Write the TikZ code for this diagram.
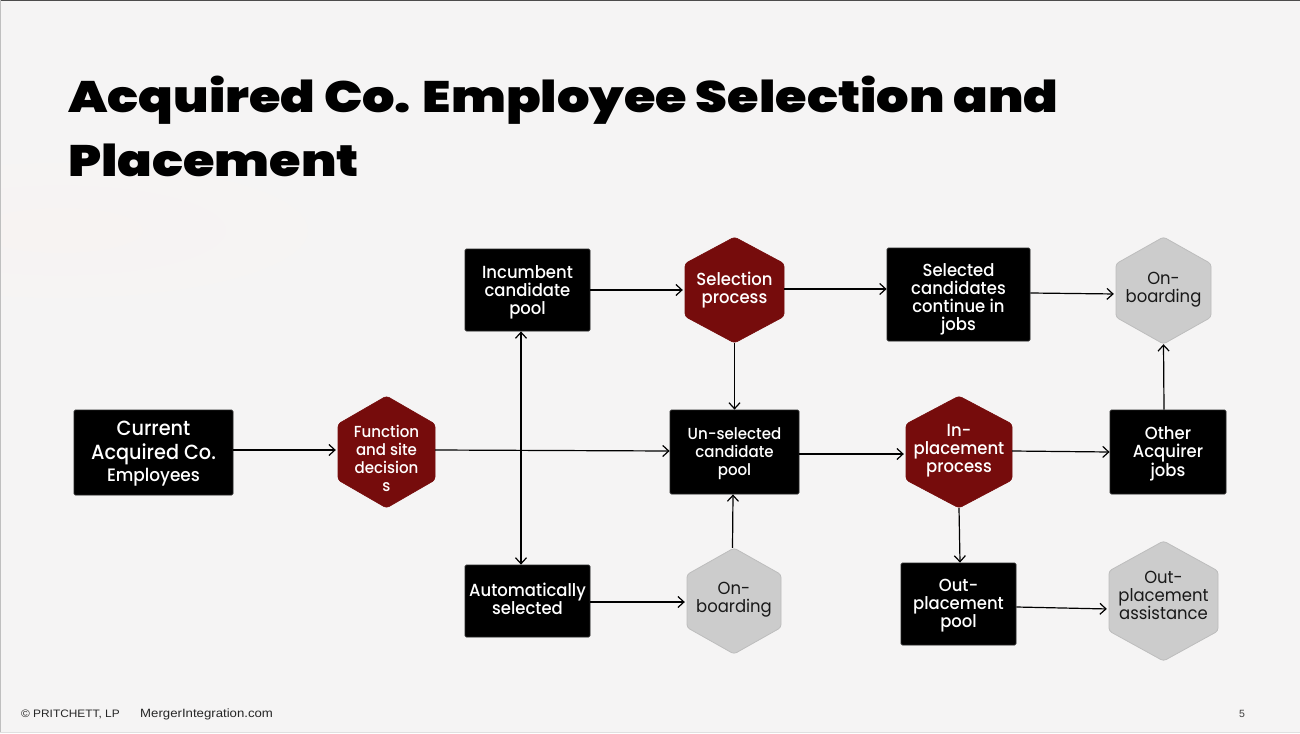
\documentclass[tikz,border=0pt]{standalone}
\usepackage{fontspec}
\usetikzlibrary{arrows.meta,calc}
\setmainfont[FakeStretch=0.94]{Poppins Medium}
\newfontfamily\grayfont[FakeStretch=0.94]{Poppins}
\newfontfamily\titlefont[FakeStretch=1.16]{Poppins Black}
\newfontfamily\footfont{Liberation Sans}
\newfontfamily\footfontw[FakeStretch=1.1]{Liberation Sans}
\definecolor{bgc}{HTML}{F5F4F4}
\definecolor{bgpink}{HTML}{F7F3F2}
\definecolor{hexred}{HTML}{760C0C}
\definecolor{hexgray}{HTML}{CCCCCC}
\definecolor{hexgrayline}{HTML}{BDBDBD}
\newcommand{\sz}[2]{\fontsize{#1}{#2}\selectfont}
% push a label down / up by #1 pt inside its box, so that the box itself stays put
\newcommand{\dn}[1]{\rule{0pt}{\dimexpr 0.8em+#1pt*2\relax}}
\newcommand{\up}[1]{\rule[\dimexpr -0.25em-#1pt*2\relax]{0pt}{0pt}}
\tikzset{
  darkbox/.style={draw=black!85,fill=black,line width=0.8pt,rounded corners=1.5pt,text=white,align=center,inner sep=0pt},
  hexlabel/.style={align=center,inner sep=0pt},
  redhex/.style={fill=hexred,draw=hexred,line width=0.6pt,rounded corners=3pt},
  grayhex/.style={fill=hexgray,draw=hexgrayline,line width=0.8pt,rounded corners=3pt},
  conn/.style={draw=black,line width=1.2pt,-{Straight Barb[length=6pt,width=11pt,line width=1.2pt]}},
  dconn/.style={draw=black,line width=1.2pt,{Straight Barb[length=6pt,width=11pt,line width=1.2pt]}-{Straight Barb[length=6pt,width=11pt,line width=1.2pt]}},
  tohex/.style={shorten >=2pt},
  big/.style={font=\sz{20.5}{24}},
  mid/.style={font=\sz{17.5}{18}},
  small/.style={font=\sz{16}{18}},
  graytext/.style={font=\grayfont\sz{17.5}{18},text=black!90},
}
% name, cx, cy, w, h, hexstyle, text options, text
\newcommand{\hexnode}[8]{%
  \path[#6] (#2,#3-#5/2) -- (#2+#4/2,#3-#5/4) -- (#2+#4/2,#3+#5/4) -- (#2,#3+#5/2) -- (#2-#4/2,#3+#5/4) -- (#2-#4/2,#3-#5/4) -- cycle;
  \node[hexlabel,minimum width=#4,minimum height=#5,#7] (#1) at (#2,#3) {#8};
}
\begin{document}
\begin{tikzpicture}[x=1pt,y=-1pt]
\useasboundingbox (0,0) rectangle (1300,733);
\fill[bgc] (0,0) rectangle (1300,733);
\shade[inner color=bgpink,outer color=bgc] (60,230) ellipse [x radius=330,y radius=90];
\fill[black!70] (0,0) rectangle (1300,1);
\fill[black!25] (0,0) rectangle (1,733);
\fill[black!12] (0,732) rectangle (1300,733);

\node[anchor=base west,inner sep=0pt] (title1) at (68,113) {\titlefont\sz{44}{46}Acquired Co. Employee Selection and};
\node[anchor=base west,inner sep=0pt] (title2) at (68,176) {\titlefont\sz{44}{46}Placement};

\node[darkbox,big,minimum width=159,minimum height=85] (cur) at (153.5,452.5) {\dn{0}Current\\Acquired Co.\\[-2pt]{\sz{18}{24}Employees}};
\node[darkbox,mid,minimum width=125,minimum height=82] (inc) at (527.5,290) {\dn{2}Incumbent\\candidate\\pool};
\node[darkbox,mid,minimum width=143,minimum height=93] (sel) at (958.5,294.5) {\dn{4}Selected\\candidates\\continue in\\jobs};
\node[darkbox,small,minimum width=129,minimum height=84] (uns) at (734.5,452) {\dn{1}Un-selected\\candidate\\pool};
\node[darkbox,mid,minimum width=116,minimum height=84] (oth) at (1168,452) {\dn{1}Other\\Acquirer\\jobs};
\node[darkbox,mid,minimum width=125,minimum height=72] (aut) at (527.5,601) {Automatically\\selected\up{0.3}};
\node[darkbox,mid,minimum width=115,minimum height=82] (out) at (958.5,604) {\dn{1}Out-\\placement\\pool};

\hexnode{fun}{386.5}{452}{97}{112}{redhex}{small,text=white}{\dn{6}Function\\and site\\decision\\s}
\hexnode{spr}{734.5}{290}{99}{106}{redhex}{mid,text=white}{Selection\\process}
\hexnode{onb}{1163.5}{290.5}{95}{107}{grayhex}{graytext}{On-\\boarding\up{1}}
\hexnode{inp}{959}{452}{106}{112}{redhex}{mid,text=white}{In-\\placement\\process\up{1}}
\hexnode{onl}{734}{601}{94}{106}{grayhex}{graytext}{On-\\boarding\up{1}}
\hexnode{oas}{1163.5}{601}{109}{120}{grayhex}{graytext}{Out-\\placement\\assistance\up{3}}

\draw[conn,tohex] ([yshift=2.5pt]cur.east) -- ([yshift=2pt]fun.west);
\draw[conn] ([yshift=2pt]fun.east) -- ([yshift=1pt]uns.west);
\draw[dconn] ([xshift=-6.5pt]inc.south) -- ([xshift=-6.5pt]aut.north);
\draw[conn,tohex] (inc.east) -- (spr.west);
\draw[conn] ([yshift=1pt]spr.east) -- ([yshift=5.5pt]sel.west);
\draw[conn] (spr.south) -- (uns.north);
\draw[conn,tohex] ([yshift=1.5pt]sel.east) -- ([yshift=-3.5pt]onb.west);
\draw[conn,tohex] ([yshift=-2pt]uns.east) -- ([yshift=-2pt]inp.west);
\draw[conn] ([yshift=1pt]inp.east) -- (oth.west);
\draw[conn] ([xshift=-4pt]oth.north) -- (onb.south);
\draw[conn] (inp.south) -- ([xshift=1.5pt]out.north);
\draw[conn,tohex] ([yshift=-1pt]aut.east) -- ([yshift=-1pt]onl.west);
\draw[conn] ([xshift=-1.5pt]onl.north) -- ([xshift=-1.5pt]uns.south);
\draw[conn,tohex] ([yshift=-3pt]out.east) -- ([yshift=-8pt]oas.west);

\node[anchor=base west,inner sep=0pt,text=black!85] (foot1) at (21,717) {\footfontw\sz{10.8}{11}© PRITCHETT, LP};
\node[anchor=base west,inner sep=0pt,text=black!85] (foot2) at (140,717) {\footfontw\sz{12}{11}MergerIntegration.com};
\node[anchor=base,inner sep=0pt,text=black!75] (pg) at (1242,717) {\footfont\sz{10.5}{11}5};
\end{tikzpicture}
\end{document}
